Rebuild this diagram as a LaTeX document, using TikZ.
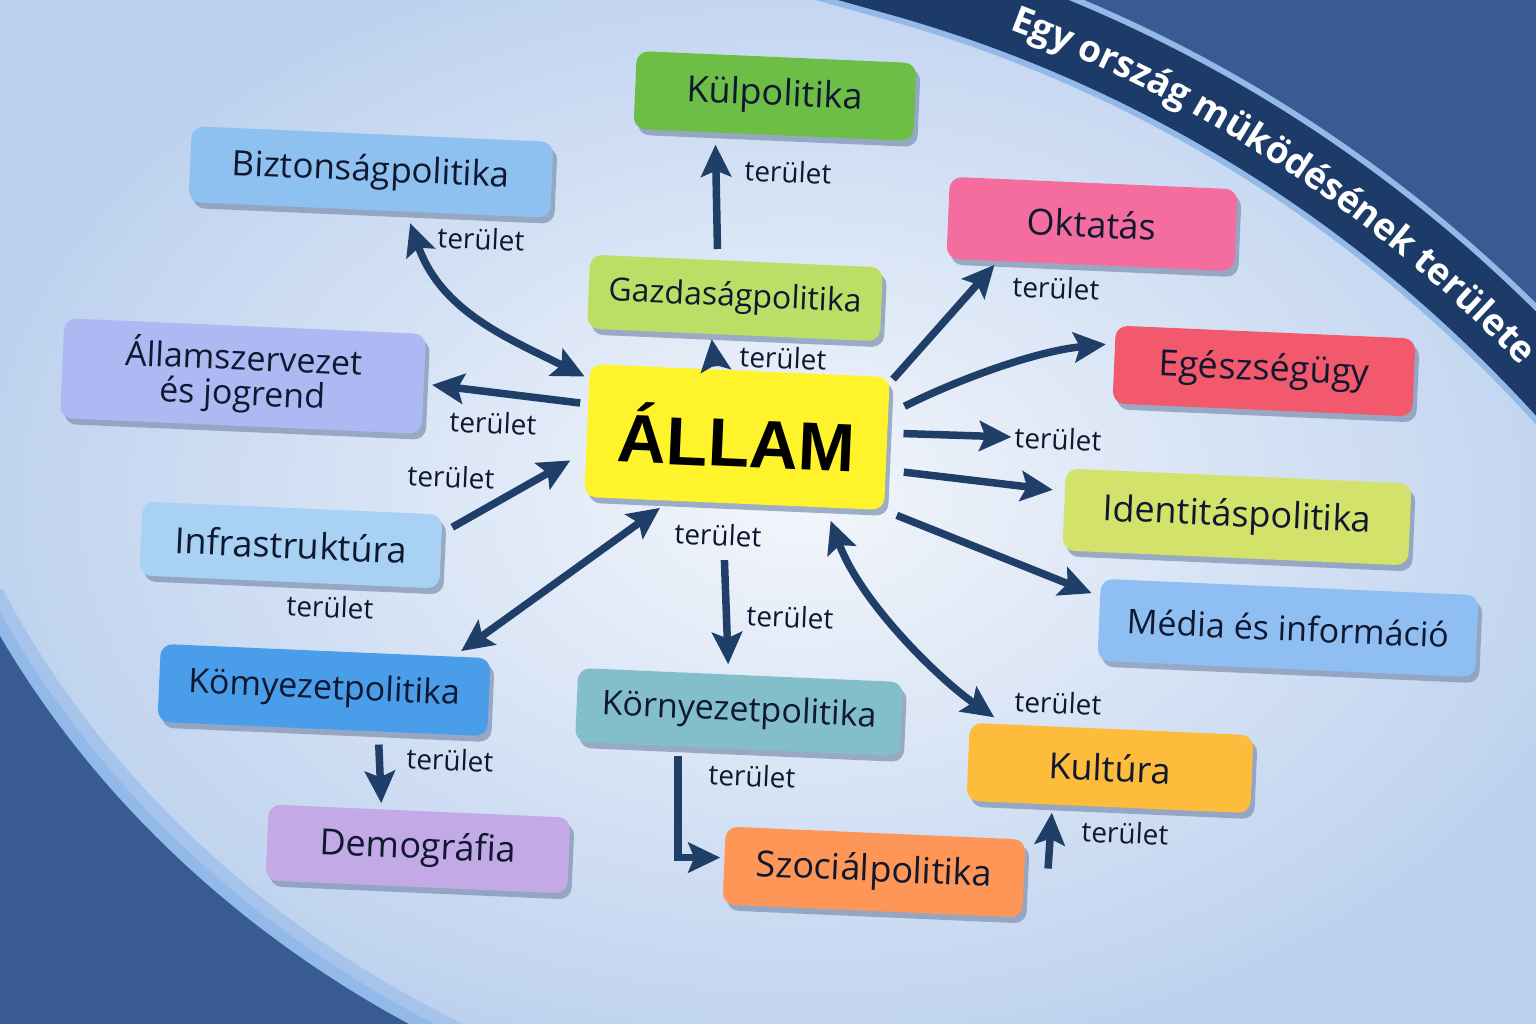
\documentclass[tikz,border=0pt]{standalone}
\usepackage{fontspec}
\setmainfont{Open Sans}
\newfontfamily\allamfont{Liberation Sans}
\usetikzlibrary{arrows.meta,shadows,decorations.text}
\definecolor{ink}{HTML}{101830}
\definecolor{arrowc}{HTML}{1F3F68}
\definecolor{paper}{HTML}{F3F6FB}
\definecolor{paperedge}{HTML}{BED2EF}
\definecolor{deep}{HTML}{375B92}
\definecolor{band}{HTML}{1D3B68}
\definecolor{rim}{HTML}{93B9E8}
\definecolor{shadowc}{HTML}{7D90B0}
\definecolor{cKul}{HTML}{6CBE47}
\definecolor{cBizt}{HTML}{8FC1F0}
\definecolor{cOkt}{HTML}{F56D9F}
\definecolor{cGazd}{HTML}{BCDD66}
\definecolor{cAllsz}{HTML}{ADB9F2}
\definecolor{cEg}{HTML}{F2596C}
\definecolor{cAllam}{HTML}{FFF42C}
\definecolor{cIdent}{HTML}{D3E26B}
\definecolor{cInfra}{HTML}{A8D1F4}
\definecolor{cMedia}{HTML}{8EBEF2}
\definecolor{cKomy}{HTML}{4A9DE9}
\definecolor{cKorny}{HTML}{83BFCB}
\definecolor{cKult}{HTML}{FDBC3C}
\definecolor{cDemo}{HTML}{C4A9E7}
\definecolor{cSzoc}{HTML}{FD9656}
\begin{document}
\begin{tikzpicture}[x=1pt,y=-1pt,
  box/.style={rounded corners=12pt, rotate=-2.5, align=center, text=ink,
    font=\fontsize{36}{38}\selectfont,
    drop shadow={shadow xshift=4pt, shadow yshift=-6pt, fill=shadowc, opacity=.7}},
  lbl/.style={font=\fontsize{28}{30}\selectfont, text=ink, rotate=-2.5, inner sep=1pt},
  arr/.style={draw=arrowc, line width=7.5pt, -{Stealth[length=32pt,width=30pt,inset=6pt]}},
  arrb/.style={arr, {Stealth[length=32pt,width=30pt,inset=6pt]}-{Stealth[length=32pt,width=30pt,inset=6pt]}}]
  \useasboundingbox (0,0) rectangle (1536,1024);
  \clip (0,0) rectangle (1536,1024);

  \fill[deep] (0,0) rectangle (1536,1024);
  \shade[inner color=paper, outer color=paperedge] (-20,-60) -- (775,-55) -- (900,-20) .. controls (1150,50) and (1400,195) .. (1605,440)
    -- (1620,1060) -- (460,1050) .. controls (250,950) and (80,790) .. (-20,600) -- cycle;
  \draw[rim!55!paperedge, line width=50pt] (-20,600) .. controls (80,790) and (250,950) .. (460,1050);
  \draw[rim, line width=24pt] (-20,600) .. controls (80,790) and (250,950) .. (460,1050);
  \fill[deep] (-20,600) .. controls (80,790) and (250,950) .. (460,1050) -- (-40,1060) -- cycle;
  \draw[rim, line width=84pt] (775,-55) -- (900,-20) .. controls (1150,50) and (1400,195) .. (1605,440);
  \draw[band, line width=72pt] (775,-55) -- (900,-20) .. controls (1150,50) and (1400,195) .. (1605,440);
  \path[decorate, decoration={text along path, text color=white, raise=-13pt,
      text align={left indent=250pt},
      text={|\bfseries\fontsize{37}{37}\selectfont|Egy ország müködésének területe}}]
    (775,-55) -- (900,-20) .. controls (1150,50) and (1400,195) .. (1605,440);

  \node[box, fill=cKul, minimum width=280pt, minimum height=78pt] (kul) at (775,96) {Külpolitika};
  \node[box, fill=cBizt, minimum width=362pt, minimum height=76pt, font=\fontsize{35}{38}\selectfont] (bizt) at (371,172) {Biztonságpolitika};
  \node[box, fill=cOkt, minimum width=288pt, minimum height=82pt] (okt) at (1092,224) {Oktatás};
  \node[box, fill=cGazd, minimum width=293pt, minimum height=74pt, font=\fontsize{32}{36}\selectfont] (gazd) at (735,298) {Gazdaságpolitika};
  \node[box, fill=cAllsz, minimum width=362pt, minimum height=100pt, font=\fontsize{34}{35}\selectfont] (allsz) at (243,376) {Államszervezet\\és jogrend};
  \node[box, fill=cEg, minimum width=300pt, minimum height=78pt] (eg) at (1264,371) {Egészségügy};
  \node[box, fill=cAllam, minimum width=300pt, minimum height=133pt, text=black,
    font=\allamfont\bfseries\fontsize{68}{70}\selectfont] (allam) at (737,437) {ÁLLAM};
  \node[box, fill=cIdent, minimum width=346pt, minimum height=82pt] (ident) at (1237,517) {Identitáspolitika};
  \node[box, fill=cInfra, minimum width=300pt, minimum height=74pt] (infra) at (291,545) {Infrastruktúra};
  \node[box, fill=cMedia, minimum width=378pt, minimum height=82pt, font=\fontsize{34}{38}\selectfont] (media) at (1288,628) {Média és információ};
  \node[box, fill=cKomy, minimum width=330pt, minimum height=78pt, font=\fontsize{34}{38}\selectfont] (komy) at (324,690) {Kömyezetpolitika};
  \node[box, fill=cKorny, minimum width=325pt, minimum height=74pt, font=\fontsize{34}{38}\selectfont] (korny) at (739,712) {Környezetpolitika};
  \node[box, fill=cKult, minimum width=284pt, minimum height=78pt] (kult) at (1110,768) {Kultúra};
  \node[box, fill=cDemo, minimum width=302pt, minimum height=76pt] (demo) at (418,849) {Demográfia};
  \node[box, fill=cSzoc, minimum width=300pt, minimum height=78pt] (szoc) at (874,872) {Szociálpolitika};

  \node[lbl] (t1) at (788,172) {terület};
  \node[lbl] (t2) at (481,239) {terület};
  \node[lbl] (t3) at (1056,288) {terület};
  \node[lbl] (t4) at (783,358) {terület};
  \node[lbl] (t5) at (493,423) {terület};
  \node[lbl] (t6) at (1058,439) {terület};
  \node[lbl] (t7) at (451,477) {terület};
  \node[lbl] (t8) at (718,535) {terület};
  \node[lbl] (t9) at (330,607) {terület};
  \node[lbl] (t10) at (790,617) {terület};
  \node[lbl] (t11) at (1058,703) {terület};
  \node[lbl] (t12) at (450,760) {terület};
  \node[lbl] (t13) at (752,776) {terület};
  \node[lbl] (t14) at (1125,833) {terület};

  \draw[arr, shorten <=11pt, shorten >=12pt] (gazd.117) -- (kul.214);
  \draw[arr, shorten <=3pt, shorten >=5pt] (allam.110) -- (gazd.239);
  \draw[arrb, shorten <=5pt, shorten >=12pt] (allam.161) .. controls +(-80,-40) and +(35,100) .. (bizt.-46);
  \draw[arr, shorten <=8pt, shorten >=8pt] (allam.170) -- (allsz.0);
  \draw[arr, shorten <=12pt, shorten >=18pt] (infra.7) -- (allam.188);
  \draw[arrb, shorten <=12pt, shorten >=9pt] (allam.226) -- (komy.17);
  \draw[arr, shorten <=57pt, shorten >=10pt] (allam.260) -- (korny.108);
  \draw[arrb, shorten <=14pt, shorten >=12pt] (allam.-36) .. controls +(35,95) and +(-65,-45) .. (kult.160);
  \draw[arr, shorten <=5pt, shorten >=5pt] (allam.22) -- (okt.204);
  \draw[arr, shorten <=18pt, shorten >=9pt] (allam.11) .. controls +(70,-35) and +(-80,8) .. (eg.172);
  \draw[arr, shorten <=16pt, shorten >=2pt] (allam.4) -- (t6.west);
  \draw[arr, shorten <=18pt, shorten >=12pt] (allam.-10) -- (ident.174);
  \draw[arr, shorten <=14pt, shorten >=9pt] (allam.-24) -- (media.173);
  \draw[arr, shorten <=13pt, shorten >=6pt] (komy.-35) -- (demo.135);
  \draw[arr, shorten <=9pt, shorten >=4pt] (korny.212) |- (szoc.177);
  \draw[arr, shorten >=8pt] (szoc.east) ++(24,-10) -- (kult.215);
\end{tikzpicture}
\end{document}
